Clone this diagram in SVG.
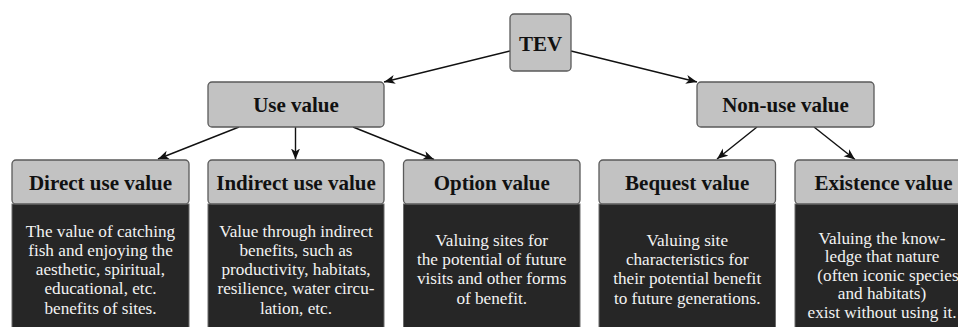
<svg xmlns="http://www.w3.org/2000/svg" width="958" height="327" viewBox="0 0 958 327">
<style>
.hdr{fill:#c2c2c2;stroke:#5a5a5a;stroke-width:1.3}
.body{fill:#262626;stroke:#6a6a6a;stroke-width:1}
.ht{font-family:"Liberation Serif","Times New Roman",serif;font-weight:bold;font-size:21px;fill:#111;text-anchor:middle}
.bt{font-family:"Liberation Serif","Times New Roman",serif;font-size:17.2px;fill:#f2f2f2;text-anchor:middle}
.conn line{stroke:#111;stroke-width:1.4;marker-end:url(#ah)}
</style>
<defs>
<marker id="ah" markerUnits="userSpaceOnUse" markerWidth="12" markerHeight="10" refX="11" refY="4.5" orient="auto">
<path d="M0,0 L11,4.5 L0,9 L3,4.5 z" fill="#111"/>
</marker>
</defs>
<rect width="958" height="327" fill="#fff"/>
<g id="connectors" class="conn">
<line x1="510" y1="51" x2="384" y2="82"/>
<line x1="571" y1="51" x2="697" y2="82"/>
<line x1="239" y1="127" x2="158" y2="159"/>
<line x1="295.5" y1="127" x2="295.5" y2="159.5"/>
<line x1="353" y1="127" x2="434" y2="159.5"/>
<line x1="757" y1="127" x2="717" y2="159"/>
<line x1="814" y1="127" x2="855" y2="159.5"/>
</g>
<g id="tev">
<rect class="hdr" x="510" y="14" width="61" height="57" rx="4"/>
<text class="ht" x="540.5" y="50.5">TEV</text>
</g>
<g id="use-value">
<rect class="hdr" x="208" y="82" width="176" height="45" rx="4"/>
<text class="ht" x="296" y="112">Use value</text>
</g>
<g id="non-use-value">
<rect class="hdr" x="697" y="82" width="177" height="45" rx="4"/>
<text class="ht" x="785.5" y="112">Non-use value</text>
</g>
<g id="direct-use-value">
<rect class="body" x="12" y="204" width="177" height="140"/>
<rect class="hdr" x="12" y="160" width="177" height="44" rx="4"/>
<text class="ht" x="100.5" y="189.5">Direct use value</text>
<text class="bt" x="100.5" y="236.5">The value of catching</text>
<text class="bt" x="100.5" y="255.8">fish and enjoying the</text>
<text class="bt" x="100.5" y="275">aesthetic, spiritual,</text>
<text class="bt" x="100.5" y="294.3">educational, etc.</text>
<text class="bt" x="100.5" y="313.5">benefits of sites.</text>
</g>
<g id="indirect-use-value">
<rect class="body" x="208" y="204" width="176" height="140"/>
<rect class="hdr" x="208" y="160" width="176" height="44" rx="4"/>
<text class="ht" x="296" y="189.5">Indirect use value</text>
<text class="bt" x="296" y="236.5">Value through indirect</text>
<text class="bt" x="296" y="255.8">benefits, such as</text>
<text class="bt" x="296" y="275">productivity, habitats,</text>
<text class="bt" x="296" y="294.3">resilience, water circu-</text>
<text class="bt" x="296" y="313.5">lation, etc.</text>
</g>
<g id="option-value">
<rect class="body" x="403.5" y="204" width="176.5" height="140"/>
<rect class="hdr" x="403.5" y="160" width="176.5" height="44" rx="4"/>
<text class="ht" x="491.7" y="189.5">Option value</text>
<text class="bt" x="491.7" y="245.8">Valuing sites for</text>
<text class="bt" x="491.7" y="265">the potential of future</text>
<text class="bt" x="491.7" y="284.3">visits and other forms</text>
<text class="bt" x="491.7" y="303.5">of benefit.</text>
</g>
<g id="bequest-value">
<rect class="body" x="599" y="204" width="176.5" height="140"/>
<rect class="hdr" x="599" y="160" width="176.5" height="44" rx="4"/>
<text class="ht" x="687.2" y="189.5">Bequest value</text>
<text class="bt" x="687.2" y="245.8">Valuing site</text>
<text class="bt" x="687.2" y="265">characteristics for</text>
<text class="bt" x="687.2" y="284.3">their potential benefit</text>
<text class="bt" x="687.2" y="303.5">to future generations.</text>
</g>
<g id="existence-value">
<rect class="body" x="795" y="204" width="177" height="140"/>
<rect class="hdr" x="795" y="160" width="177" height="44" rx="4"/>
<text class="ht" x="883.5" y="189.5">Existence value</text>
<text class="bt" x="882" y="243.5">Valuing the know-</text>
<text class="bt" x="882" y="262">ledge that nature</text>
<text class="bt" x="888" y="280.5">(often iconic species</text>
<text class="bt" x="882" y="299">and habitats)</text>
<text class="bt" x="882" y="317.5">exist without using it.</text>
</g>
</svg>
